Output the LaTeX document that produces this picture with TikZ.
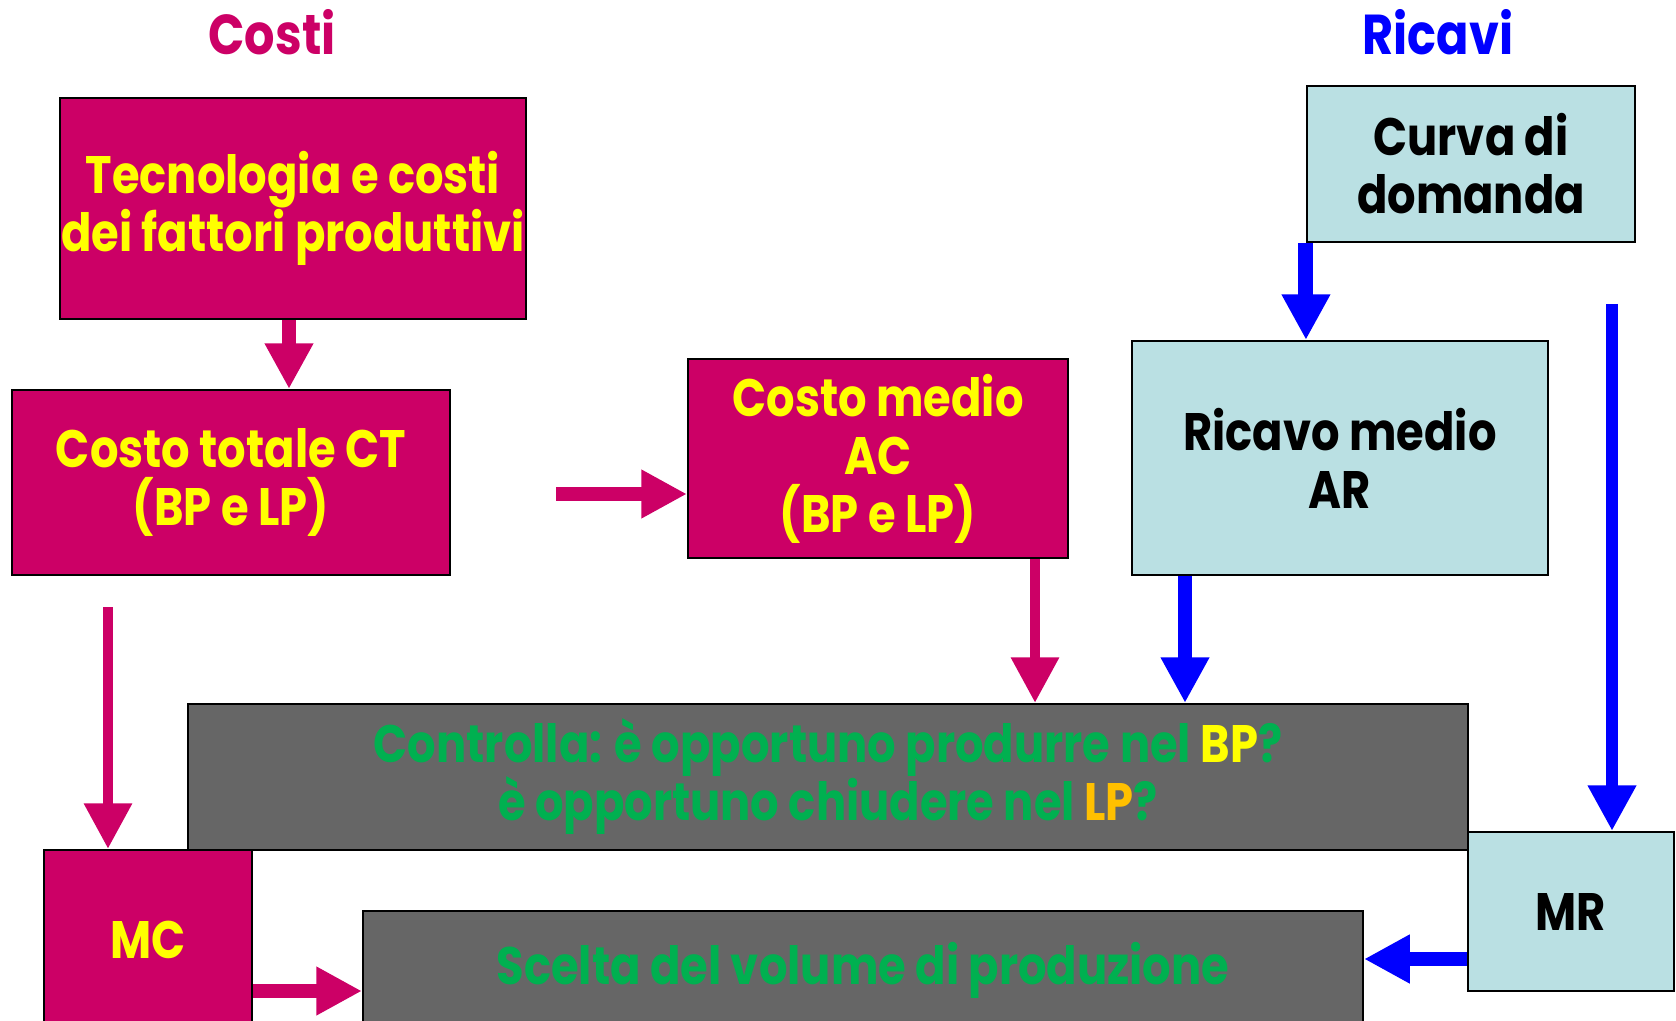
\documentclass[tikz,border=0pt]{standalone}
\usepackage{fontspec}
\setmainfont{Poppins}[BoldFeatures = {FakeStretch = 0.85}]
\usetikzlibrary{arrows.meta}

\definecolor{costo}{HTML}{CC0066}
\definecolor{giallo}{HTML}{FFFF00}
\definecolor{azzurro}{HTML}{BAE0E3}
\definecolor{grigio}{HTML}{666666}
\definecolor{verde}{HTML}{00B050}
\definecolor{arancio}{HTML}{FFC000}
\definecolor{ricavo}{HTML}{0000FF}

\begin{document}
\begin{tikzpicture}[
  box/.style = {draw, line width = 1.2pt, align = center, inner sep = 0pt,
    font = \fontsize{30}{33}\selectfont\bfseries},
  costbox/.style = {box, fill = costo, text = giallo},
  ricbox/.style = {box, fill = azzurro, text = black},
  grigiobox/.style = {box, fill = grigio, text = verde},
  title/.style = {font = \fontsize{32}{38}\selectfont\bfseries},
  costarrow/.style = {draw = costo, line width = 8.5pt,
    -{Triangle[length = 26pt, width = 26pt]}},
  costthin/.style = {costarrow, line width = 6pt},
  ricarrow/.style = {draw = ricavo, line width = 8.5pt,
    -{Triangle[length = 26pt, width = 26pt]}},
  ricthin/.style = {ricarrow, line width = 7pt}
  ]
  \useasboundingbox (0, 0) rectangle (33.52, -20.42);

  \node[title, text = costo] (costi) at (5.44, -0.64) {Costi};
  \node[title, text = ricavo] (ricavi) at (28.76, -0.64) {Ricavi};

  % colonna dei costi
  \node[costbox, minimum width = 9.32cm, minimum height = 4.42cm] (tech)
    at (5.86, -4.17) {Tecnologia e costi\\dei fattori produttivi};
  \node[costbox, minimum width = 8.76cm, minimum height = 3.7cm] (ct)
    at (4.62, -9.65) {Costo totale CT\\(BP e LP)};
  \node[costbox, minimum width = 7.6cm, minimum height = 3.98cm] (ac)
    at (17.56, -9.17) {Costo medio\\AC\\(BP e LP)};

  % colonna dei ricavi
  \node[ricbox, minimum width = 6.56cm, minimum height = 3.12cm] (dom)
    at (29.42, -3.28) {Curva di\\domanda};
  \node[ricbox, minimum width = 8.32cm, minimum height = 4.68cm] (ar)
    at (26.8, -9.16) {Ricavo medio\\AR};

  \node[grigiobox, minimum width = 25.6cm, minimum height = 2.92cm] (control)
    at (16.56, -15.54) {Controlla: è opportuno produrre nel \textcolor{giallo}{BP}?\\
    è opportuno chiudere nel \textcolor{arancio}{LP}?};
  \node[costbox, minimum width = 4.16cm, minimum height = 3.6cm] (mc)
    at (2.96, -18.8) {MC};
  \node[ricbox, minimum width = 4.12cm, minimum height = 3.18cm] (mr)
    at (31.42, -18.23) {MR};
  \node[grigiobox, minimum width = 20cm, minimum height = 2.38cm] (scelta)
    at (17.26, -19.41) {Scelta del volume di produzione};

  \coordinate (ctac) at (11.12, -9.88);
  \coordinate (ctmc) at (2.16, -12.14);
  \coordinate (dommr) at (32.24, -6.08);

  \draw[costarrow] ([xshift = -0.08cm]tech.south)
    -- ([xshift = -0.08cm]tech.south |- ct.north);
  \draw[costarrow] (ctac) -- (ctac -| ac.west);
  \draw[costthin] (ctmc) -- (ctmc |- mc.north);
  \draw[costthin] ([xshift = 3.14cm]ac.south)
    -- ([xshift = 3.14cm]ac.south |- control.north);
  \draw[costarrow] ([yshift = -1.02cm]mc.east)
    -- ([yshift = -1.02cm]mc.east -| scelta.west);

  \draw[ricarrow] (dom.south west) -- (dom.south west |- ar.north);
  \draw[ricthin] (dommr) -- (dommr |- mr.north);
  \draw[ricarrow] ([xshift = -3.1cm]ar.south)
    -- ([xshift = -3.1cm]ar.south |- control.north);
  \draw[ricarrow] ([yshift = -0.95cm]mr.west)
    -- ([yshift = -0.95cm]mr.west -| scelta.east);
\end{tikzpicture}
\end{document}
